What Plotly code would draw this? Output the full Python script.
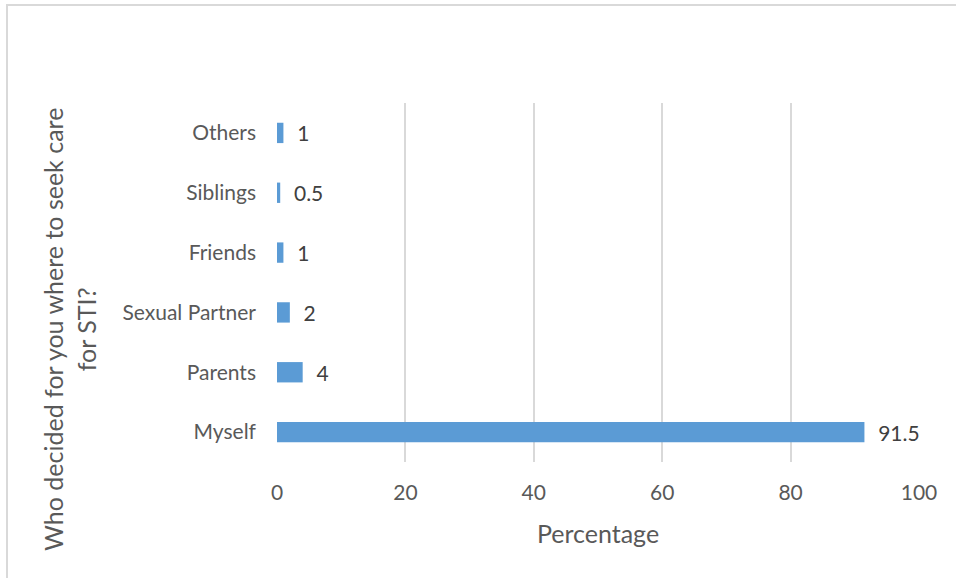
import plotly.graph_objects as go

categories = ["Myself", "Parents", "Sexual Partner", "Friends", "Siblings", "Others"]
values = [91.5, 4, 2, 1, 0.5, 1]
value_labels = ["91.5", "4", "2", "1", "0.5", "1"]
x_ticks = [0, 20, 40, 60, 80, 100]

FONT = "Lato, 'Open Sans', sans-serif"
TXT = "#595959"

W, H = 956, 578
L, T = 277, 103
R = W - 919
B = H - 462
pw, ph = W - L - R, H - T - B

fig = go.Figure(go.Bar(
    y=categories, x=values, orientation="h",
    marker=dict(color="#5b9bd5", line=dict(width=0)),
    width=0.34,
    text=["\u00a0\u00a0" + s for s in value_labels], textposition="outside",
    constraintext="none",
    textfont=dict(family=FONT, size=21, color="#404040"),
    cliponaxis=False,
))

fig.update_layout(
    width=W, height=H,
    margin=dict(l=L, r=R, t=T, b=B, pad=0),
    paper_bgcolor="white", plot_bgcolor="white",
    font=dict(family=FONT, color=TXT, size=21),
    showlegend=False,
    xaxis=dict(
        range=[0, 100], tickvals=x_ticks, ticktext=[str(v) for v in x_ticks],
        showgrid=True, gridcolor="#d9d9d9", gridwidth=1.5,
        zeroline=False, showline=False, ticks="",
        tickfont=dict(size=21, color=TXT), ticklabelstandoff=16,
        title=dict(text="Percentage", font=dict(size=25, color=TXT), standoff=22),
    ),
    yaxis=dict(
        categoryorder="array", categoryarray=categories,
        showgrid=False, zeroline=False, showline=False, ticks="",
        tickfont=dict(size=21, color=TXT), ticklabelstandoff=20,
    ),
    annotations=[dict(
        text="Who decided for you where to seek care<br>for STI?",
        textangle=-90, xref="paper", yref="paper",
        x=(69 - L) / pw, y=(462 - 330) / ph,
        showarrow=False, font=dict(size=25, color=TXT),
        xanchor="center", yanchor="middle", align="center",
    )],
    shapes=[dict(
        type="rect", xref="paper", yref="paper",
        x0=(7 - L) / pw, x1=(W + 20 - L) / pw,
        y0=(462 - 620) / ph, y1=(462 - 5) / ph,
        line=dict(color="#d9d9d9", width=2), fillcolor="rgba(0,0,0,0)",
        layer="below",
    )],
)

fig.write_html(
    "out.html",
    config={"displayModeBar": False},
    post_script="document.body.style.margin='0';document.body.style.overflow='hidden';",
)
